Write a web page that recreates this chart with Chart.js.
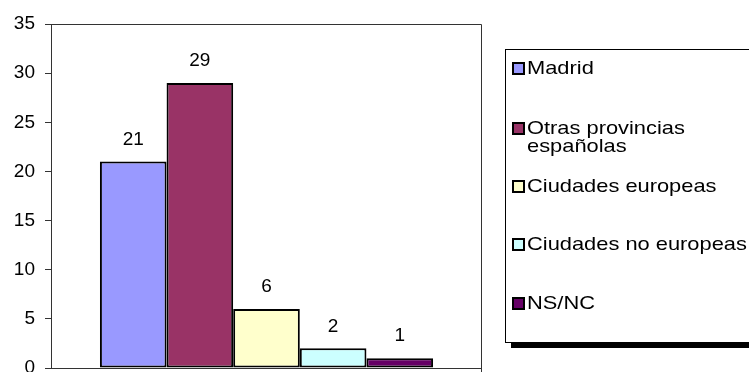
<!DOCTYPE html>
<html>
<head>
<meta charset="utf-8">
<script src="https://cdn.jsdelivr.net/npm/chart.js@4/dist/chart.umd.min.js"></script>
<style>
    html, body { margin: 0; padding: 0; background: #fff; overflow: hidden; }
    #wrap { position: relative; width: 749px; height: 372px; }
    #legend {
        position: absolute; left: 505px; top: 49px; width: 260px; height: 292px;
        border: 1px solid #000; background: #fff; box-shadow: 6px 5px 0 #000;
        font-family: "Liberation Sans", Arial, sans-serif; font-size: 19px; color: #000;
    }
    .item { position: absolute; left: 6px; line-height: 18px; padding-left: 15px; white-space: nowrap; }
    .txt { display: inline-block; transform: scaleX(1.15); transform-origin: left center; }
    .sw { position: absolute; left: 0; top: 3px; width: 9px; height: 9px; border: 2px solid #000; }
</style>
</head>
<body>
<div id="wrap">
    <canvas id="chart" width="749" height="372"></canvas>
    <div id="legend"></div>
</div>
<script>
// Data
const seriesNames = ['Madrid', 'Otras provincias españolas', 'Ciudades europeas', 'Ciudades no europeas', 'NS/NC'];
const seriesValues = [21, 29, 6, 2, 1];
const seriesColors = ['#9999FF', '#993366', '#FFFFCC', '#CCFFFF', '#660066'];
const yTicks = [0, 5, 10, 15, 20, 25, 30, 35];

const FONT = '"Liberation Sans", Arial, sans-serif';

// Plot frame (top, right and bottom lines)
const framePlugin = {
    id: 'frame',
    afterDraw(chart) {
        const { ctx, chartArea: a } = chart;
        ctx.save();
        ctx.strokeStyle = '#333';
        ctx.lineWidth = 1;
        ctx.beginPath();
        ctx.moveTo(a.left, a.top + 0.5);
        ctx.lineTo(a.right - 0.5, a.top + 0.5);
        ctx.lineTo(a.right - 0.5, 372);
        ctx.moveTo(a.left, a.bottom + 0.5);
        ctx.lineTo(a.right, a.bottom + 0.5);
        ctx.stroke();
        ctx.restore();
    }
};

// Value labels above bars
const valueLabels = {
    id: 'valueLabels',
    afterDatasetsDraw(chart) {
        const { ctx } = chart;
        ctx.save();
        ctx.font = '19px ' + FONT;
        ctx.fillStyle = '#000';
        ctx.textAlign = 'center';
        ctx.textBaseline = 'middle';
        chart.data.datasets.forEach((ds, i) => {
            const bar = chart.getDatasetMeta(i).data[0];
            ctx.fillText(String(ds.data[0]), bar.x, bar.y - 22);
        });
        ctx.restore();
    }
};

const datasets = seriesNames.map((name, i) => ({
    label: name,
    data: [seriesValues[i]],
    backgroundColor: seriesColors[i],
    borderColor: '#000',
    borderWidth: 2,
    borderSkipped: false,
    barPercentage: 1,
    categoryPercentage: 0.773
}));

new Chart(document.getElementById('chart'), {
    type: 'bar',
    data: { labels: [''], datasets: datasets },
    options: {
        responsive: false,
        animation: false,
        layout: { padding: { left: 0, right: 267, top: 24, bottom: 4 } },
        plugins: { legend: { display: false }, tooltip: { enabled: false } },
        scales: {
            x: { display: false },
            y: {
                min: 0,
                max: 35,
                afterBuildTicks(scale) { scale.ticks = yTicks.map(v => ({ value: v })); },
                afterFit(scale) {
                    scale.width = 51;
                    scale.paddingTop = 0;
                    scale.paddingBottom = 0;
                },
                grid: { drawOnChartArea: false, tickLength: 6, tickColor: '#333' },
                border: { color: '#333', width: 1 },
                ticks: { padding: 10, color: '#000', font: { family: FONT, size: 19 } }
            }
        }
    },
    plugins: [framePlugin, valueLabels]
});

// HTML legend
const legendTops = [9, 69, 127, 185, 244];
const legend = document.getElementById('legend');
seriesNames.forEach((name, i) => {
    const item = document.createElement('div');
    item.className = 'item';
    item.style.top = legendTops[i] + 'px';
    const text = name === 'Otras provincias españolas' ? 'Otras provincias<br>españolas' : name;
    item.innerHTML = `<span class="sw" style="background:${seriesColors[i]}"></span><span class="txt">${text}</span>`;
    legend.appendChild(item);
});
</script>
</body>
</html>
